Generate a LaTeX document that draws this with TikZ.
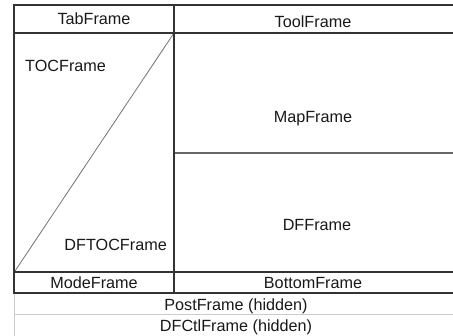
\documentclass[tikz,border=0pt]{standalone}
\usepackage{fontspec}
\setmainfont{Liberation Sans}
\begin{document}
\begin{tikzpicture}[x=1pt,y=-1pt,
  dark/.style={draw=black!80,line width=1.6pt},
  mid/.style={draw=black!60,line width=1.3pt},
  thin/.style={draw=black!55,line width=0.8pt},
  light/.style={draw=black!20,line width=1pt},
  lbl/.style={inner sep=0pt,text height=11.6pt,text depth=0pt,font=\fontsize{16.2}{19}\selectfont,text=black!90}]
\useasboundingbox[fill=white] (0,0) rectangle (453,336);
% hidden frames (light)
\draw[light] (14,293) -- (14,336);
\draw[light] (14,315) -- (453,315);
% diagonal
\draw[thin] (174,33) -- (15,271);
% Map/DF divider
\draw[mid] (174,153) -- (453,153);
% main frame
\draw[dark] (453,5) -- (14,5) -- (14,293) -- (453,293);
\draw[dark] (14,33) -- (453,33);
\draw[dark] (14,272) -- (453,272);
\draw[dark] (174,5) -- (174,293);
% labels
\node[lbl] (tab) at (94,19) {TabFrame};
\node[lbl] (tool) at (313,22) {ToolFrame};
\node[lbl,anchor=west] (toc) at (25,65.5) {TOCFrame};
\node[lbl] (map) at (313,117) {MapFrame};
\node[lbl] (df) at (317,225) {DFFrame};
\node[lbl,anchor=east] (dftoc) at (167,245) {DFTOCFrame};
\node[lbl] (mode) at (94,283) {ModeFrame};
\node[lbl] (bottom) at (313,283) {BottomFrame};
\node[lbl] (post) at (236,304.5) {PostFrame (hidden)};
\node[lbl] (dfctl) at (236,326) {DFCtlFrame (hidden)};
\end{tikzpicture}
\end{document}
